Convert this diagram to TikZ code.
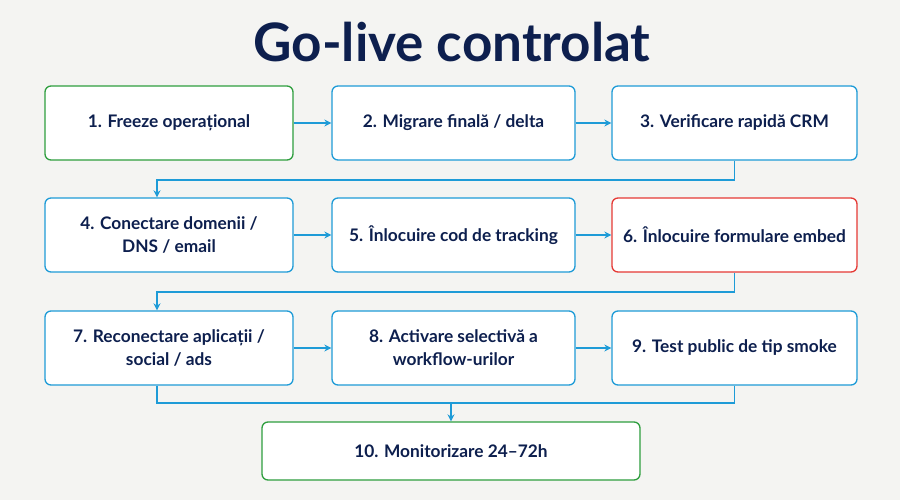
\documentclass[tikz,border=0pt]{standalone}
\usepackage{fontspec}
\setmainfont{Lato}
\usetikzlibrary{arrows.meta}
\definecolor{bg}{HTML}{F4F4F2}
\definecolor{navy}{HTML}{0D1F4E}
\definecolor{bl}{HTML}{1E9BD7}
\definecolor{gr}{HTML}{2E9E3E}
\definecolor{rd}{HTML}{E53935}
\begin{document}
\begin{tikzpicture}[x=1pt,y=-1pt,
 box/.style={draw=bl,line width=1.3pt,fill=white,rounded corners=6pt,minimum height=74pt,align=center,font=\fontsize{17.3}{23}\selectfont\bfseries,text=navy},
 conn/.style={draw=bl,line width=1.3pt},
 arr/.style={conn,-{Stealth[length=7pt,width=7pt]}}]
\fill[bg] (0,0) rectangle (900,500);
\node[font=\fontsize{53}{56}\selectfont\bfseries,text=navy] (t) at (452,42) {Go-live controlat};
\node[box,draw=gr,minimum width=248pt] (b1) at (169,123) {1. Freeze operațional};
\node[box,minimum width=243pt] (b2) at (453.5,123) {2. Migrare finală / delta};
\node[box,minimum width=245pt] (b3) at (734.5,123) {3. Verificare rapidă CRM};
\node[box,minimum width=248pt] (b4) at (169,235) {4. Conectare domenii /\\DNS / email};
\node[box,minimum width=243pt] (b5) at (453.5,235) {5. Înlocuire cod de tracking};
\node[box,draw=rd,minimum width=245pt] (b6) at (734.5,235) {6. Înlocuire formulare embed};
\node[box,minimum width=248pt] (b7) at (169,348) {7. Reconectare aplicații /\\social / ads};
\node[box,minimum width=243pt] (b8) at (453.5,348) {8. Activare selectivă a\\workflow-urilor};
\node[box,minimum width=245pt] (b9) at (734.5,348) {9. Test public de tip smoke};
\node[box,draw=gr,minimum width=378pt,minimum height=58pt] (b10) at (451,451) {10. Monitorizare 24–72h};
\draw[arr] (b1) -- (b2); \draw[arr] (b2) -- (b3);
\draw[arr] (b4) -- (b5); \draw[arr] (b5) -- (b6);
\draw[arr] (b7) -- (b8); \draw[arr] (b8) -- (b9);
\coordinate (c1) at (157,180); \coordinate (c2) at (157,292);
\draw[arr] (b3.south) |- (c1) -- (b4.north -| c1);
\draw[arr] (b6.south) |- (c2) -- (b7.north -| c2);
\coordinate (j) at (451,403);
\draw[conn] (b7.south -| c1) |- (j);
\draw[conn] (b9.south) |- (j);
\draw[arr] (j) -- (b10.north);
\end{tikzpicture}
\end{document}
